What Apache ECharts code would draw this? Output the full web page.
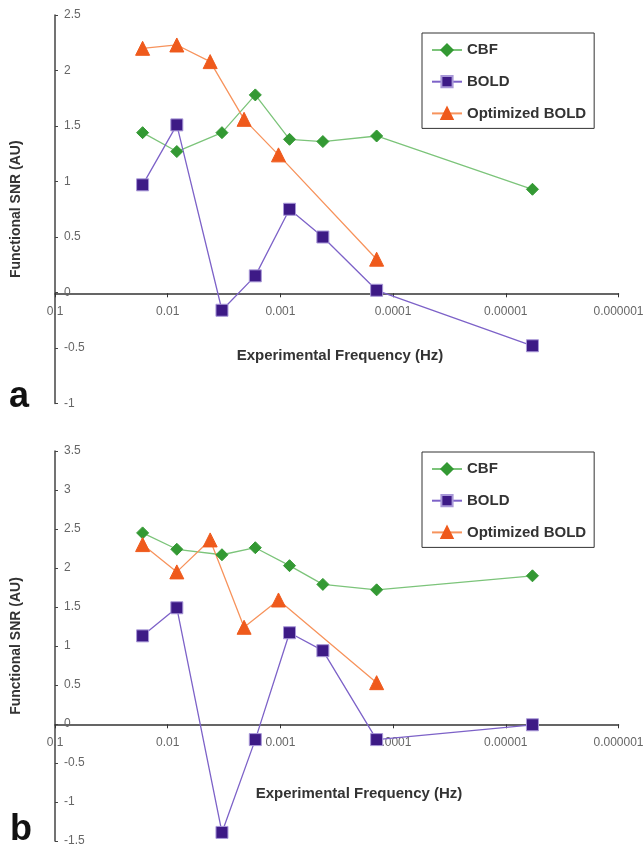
<!DOCTYPE html>
<html>
<head>
<meta charset="utf-8">
<script src="https://cdn.jsdelivr.net/npm/echarts@6/dist/echarts.min.js"></script>
<style>
  html, body { margin: 0; padding: 0; background: #fff; }
  #chart { width: 644px; height: 849px; }
</style>
</head>
<body>
<div id="chart"></div>
<script>
// stimulus frequencies (Hz)
const freqs = [0.0167, 0.0083, 0.0033, 0.00167, 0.00083, 0.00042, 0.00014, 0.0000058];
const freqsOpt = [0.0167, 0.0083, 0.0042, 0.0021, 0.00104, 0.00014];

// panel a
const cbfA = [1.44, 1.27, 1.44, 1.78, 1.38, 1.36, 1.41, 0.93];
const boldA = [0.97, 1.51, -0.16, 0.15, 0.75, 0.50, 0.02, -0.48];
const optA = [2.20, 2.23, 2.08, 1.56, 1.24, 0.30];

// panel b
const cbfB = [2.45, 2.24, 2.17, 2.26, 2.03, 1.79, 1.72, 1.90];
const boldB = [1.13, 1.49, -1.39, -0.20, 1.17, 0.94, -0.20, -0.01];
const optB = [2.30, 1.95, 2.36, 1.24, 1.59, 0.53];

const xTickLabels = ['0.1', '0.01', '0.001', '0.0001', '0.00001', '0.000001'];
const seriesNames = ['CBF', 'BOLD', 'Optimized BOLD'];

const chart = echarts.init(document.getElementById('chart'));

const pairs = (xs, ys) => ys.map((y, i) => [xs[i], y]);

const styles = [
  { symbol: 'diamond', size: 12, line: '#7cc47a', fill: '#339933', border: '#339933' },
  { symbol: 'rect', size: 12, line: '#7d62c8', fill: '#3d1a86', border: '#a898d8' },
  { symbol: 'triangle', size: 14, line: '#f7935c', fill: '#ef5a1c', border: '#ef5a1c' }
];

function makeSeries(name, data, idx, st) {
  return {
    name: name,
    type: 'line',
    xAxisIndex: idx,
    yAxisIndex: idx,
    data: data,
    symbol: st.symbol,
    symbolSize: st.size,
    showAllSymbol: true,
    animation: false,
    lineStyle: { color: st.line, width: 1.3 },
    itemStyle: { color: st.fill, borderColor: st.border, borderWidth: 1 }
  };
}

// x axis sits on y = 0; offset is measured up from the grid bottom
function xAxis(idx, offset) {
  return {
    type: 'log',
    gridIndex: idx,
    logBase: 10,
    min: 0.000001,
    max: 0.1,
    inverse: true,
    position: 'bottom',
    offset: offset,
    axisLine: { onZero: false, lineStyle: { color: '#333', width: 1.5 } },
    axisTick: { show: true, length: 4, lineStyle: { color: '#333' } },
    axisLabel: {
      color: '#666',
      fontSize: 12,
      fontFamily: 'Liberation Sans',
      margin: 12,
      hideOverlap: false,
      formatter: v => xTickLabels[-Math.round(Math.log10(v)) - 1]
    },
    splitLine: { show: false },
    minorTick: { show: false }
  };
}

function yAxis(idx, min, max) {
  return {
    type: 'value',
    gridIndex: idx,
    min: min,
    max: max,
    interval: 0.5,
    name: 'Functional SNR (AU)',
    nameLocation: 'middle',
    nameRotate: 90,
    nameGap: 32,
    nameTextStyle: { color: '#333', fontSize: 14, fontWeight: 'bold', fontFamily: 'Liberation Sans' },
    axisLine: { show: true, onZero: false, lineStyle: { color: '#444', width: 1.5 } },
    axisTick: { show: true, inside: true, length: 3, lineStyle: { color: '#444' } },
    axisLabel: { inside: true, margin: 9, color: '#666', fontSize: 12, fontFamily: 'Liberation Sans' },
    splitLine: { show: false }
  };
}

function legend(top) {
  return {
    data: seriesNames,
    orient: 'vertical',
    left: 422,
    top: top,
    padding: [9, 8, 7, 9],
    itemWidth: 30,
    itemHeight: 14,
    itemGap: 15.7,
    backgroundColor: '#fff',
    borderColor: '#333',
    borderWidth: 1,
    borderRadius: 0,
    selectedMode: false,
    textStyle: { color: '#333', fontSize: 15, fontWeight: 'bold', fontFamily: 'Liberation Sans', lineHeight: 16 }
  };
}

const option = {
  backgroundColor: '#fff',
  animation: false,
  grid: [
    { left: 55, top: 15, right: 25.5, bottom: 445.5, containLabel: false, outerBoundsMode: 'none' },
    { left: 55, top: 451, right: 25.5, bottom: 8, containLabel: false, outerBoundsMode: 'none' }
  ],
  xAxis: [xAxis(0, -110.2), xAxis(1, -116.7)],
  yAxis: [yAxis(0, -1, 2.5), yAxis(1, -1.5, 3.5)],
  legend: [legend(33), legend(452)],
  series: [
    makeSeries('CBF', pairs(freqs, cbfA), 0, styles[0]),
    makeSeries('BOLD', pairs(freqs, boldA), 0, styles[1]),
    makeSeries('Optimized BOLD', pairs(freqsOpt, optA), 0, styles[2]),
    makeSeries('CBF', pairs(freqs, cbfB), 1, styles[0]),
    makeSeries('BOLD', pairs(freqs, boldB), 1, styles[1]),
    makeSeries('Optimized BOLD', pairs(freqsOpt, optB), 1, styles[2])
  ],
  graphic: [
    {
      type: 'text', x: 340, y: 356,
      style: { text: 'Experimental Frequency (Hz)', fill: '#333', font: 'bold 15px "Liberation Sans"', align: 'center', verticalAlign: 'middle' }
    },
    {
      type: 'text', x: 359, y: 794,
      style: { text: 'Experimental Frequency (Hz)', fill: '#333', font: 'bold 15px "Liberation Sans"', align: 'center', verticalAlign: 'middle' }
    },
    {
      type: 'text', x: 9, y: 397.5,
      style: { text: 'a', fill: '#111', font: 'bold 36px "Liberation Sans"', align: 'left', verticalAlign: 'middle' }
    },
    {
      type: 'text', x: 10, y: 830.5,
      style: { text: 'b', fill: '#111', font: 'bold 36px "Liberation Sans"', align: 'left', verticalAlign: 'middle' }
    }
  ]
};

chart.setOption(option);
</script>
</body>
</html>
